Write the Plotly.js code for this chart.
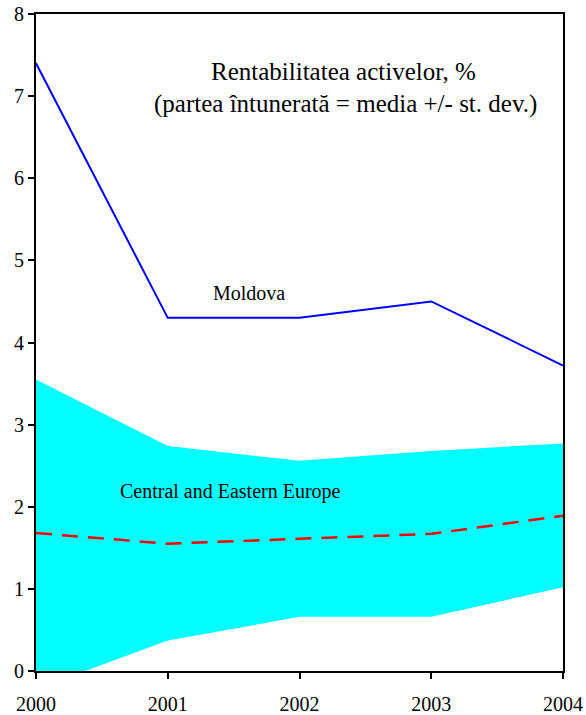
<!DOCTYPE html>
<html>
<head>
<meta charset="utf-8">
<script src="https://cdn.plot.ly/plotly-3.0.1.min.js"></script>
<style>
  html, body { margin: 0; padding: 0; background: #fff; }
  #chart { width: 586px; height: 715px; }
</style>
</head>
<body>
<div id="chart"></div>
<script>
// Return on assets, %: Moldova vs. Central and Eastern Europe (mean +/- st. dev.)
const years = [2000, 2001, 2002, 2003, 2004];
const moldova = [7.40, 4.30, 4.30, 4.50, 3.72];
const ceeMean = [1.68, 1.55, 1.61, 1.67, 1.89];
const ceeLower = [-0.22, 0.37, 0.66, 0.66, 1.02];
const ceeUpper = [3.55, 2.74, 2.56, 2.68, 2.77];

const serif = 'Liberation Serif';

const traces = [
  {
    x: years, y: ceeLower, mode: 'lines', line: {width: 0, color: 'rgba(0,0,0,0)'},
    hoverinfo: 'skip', showlegend: false
  },
  {
    x: years, y: ceeUpper, mode: 'lines', line: {width: 0, color: 'rgba(0,0,0,0)'},
    fill: 'tonexty', fillcolor: '#00FFFF', hoverinfo: 'skip', showlegend: false
  },
  {
    x: years, y: ceeMean, mode: 'lines',
    line: {color: '#FF0000', width: 2.5, dash: '16px,10px'}, showlegend: false
  },
  {
    x: years, y: moldova, mode: 'lines',
    line: {color: '#0000FF', width: 2}, showlegend: false
  }
];

const layout = {
  width: 586, height: 715,
  margin: {l: 36, r: 23, t: 14, b: 44},
  paper_bgcolor: '#ffffff', plot_bgcolor: '#ffffff',
  font: {family: serif, size: 20, color: '#000'},
  showlegend: false,
  xaxis: {
    range: [2000, 2004], tickvals: years, ticktext: years.map(String),
    showgrid: false, zeroline: false,
    showline: true, linecolor: '#000', linewidth: 2, mirror: true,
    ticks: 'outside', ticklen: 6, tickwidth: 2, tickcolor: '#000',
    ticklabelstandoff: 8,
    tickfont: {family: serif, size: 20, color: '#000'}
  },
  yaxis: {
    range: [0, 8], dtick: 1,
    showgrid: false, zeroline: false,
    showline: true, linecolor: '#000', linewidth: 2, mirror: true,
    ticks: 'outside', ticklen: 6, tickwidth: 2, tickcolor: '#000',
    tickfont: {family: serif, size: 20, color: '#000'}
  },
  annotations: [
    {x: 0.584, y: 7.3, xref: 'paper', yref: 'y', showarrow: false,
     text: 'Rentabilitatea activelor, %', font: {family: serif, size: 25, color: '#000'}},
    {x: 0.587, y: 6.91, xref: 'paper', yref: 'y', showarrow: false,
     text: '(partea întunerată = media +/- st. dev.)', font: {family: serif, size: 25, color: '#000'}},
    {x: 2001.62, y: 4.6, showarrow: false, text: 'Moldova',
     font: {family: serif, size: 20, color: '#000'}},
    {x: 2001.48, y: 2.18, showarrow: false, text: 'Central and Eastern Europe',
     font: {family: serif, size: 20, color: '#000'}}
  ]
};

Plotly.newPlot('chart', traces, layout, {staticPlot: true, displayModeBar: false});
</script>
</body>
</html>
